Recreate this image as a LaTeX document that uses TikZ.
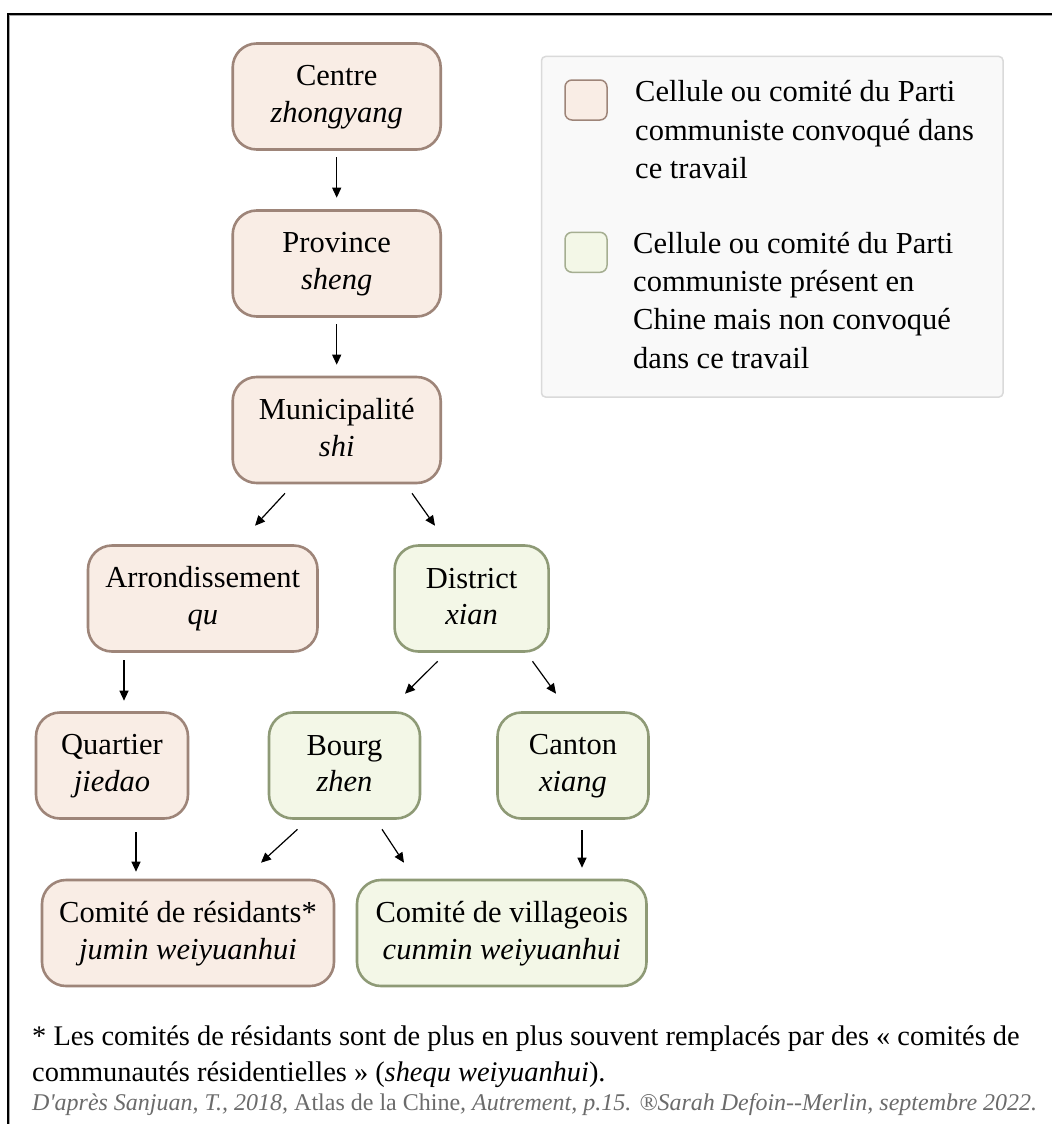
\documentclass[tikz,border=0pt]{standalone}
\usepackage{fontspec}
\setmainfont{Liberation Serif}
\usetikzlibrary{arrows.meta}
\definecolor{pinkfill}{HTML}{F9EDE5}
\definecolor{pinkdraw}{HTML}{9E8579}
\definecolor{greenfill}{HTML}{F3F7E7}
\definecolor{greendraw}{HTML}{8E9A76}
\definecolor{legfill}{HTML}{F9F9F9}
\definecolor{legdraw}{HTML}{DADADA}
\definecolor{srcgrey}{HTML}{6B6B6B}
\newcommand{\mytop}{\rule{0pt}{22pt}}
\newcommand{\mybot}{\rule[-6pt]{0pt}{6pt}}
\begin{document}
\begin{tikzpicture}[x=1pt,y=-1pt,
  box/.style={rounded corners=24pt, line width=2.6pt, minimum height=106pt, inner sep=0pt, align=center, font=\fontsize{30.5pt}{36.7pt}\selectfont},
  pbox/.style={box, fill=pinkfill, draw=pinkdraw},
  gbox/.style={box, fill=greenfill, draw=greendraw},
  arr/.style={line width=1.2pt, -{Triangle[length=10pt,width=9pt]}},
  swatch/.style={line width=1.5pt, rounded corners=7pt, minimum width=42pt, minimum height=40pt, inner sep=0pt},
  legtext/.style={anchor=north west, inner sep=0pt, align=left, font=\fontsize{30.5pt}{38.3pt}\selectfont},
]
\useasboundingbox (0,0) rectangle (1052,1124);
\fill[white] (0,0) rectangle (1052,1124);
% frame
\draw[black, line width=2.7pt] (8,1124) -- (8,14) -- (1052,14);
\draw[gray!70, line width=1pt] (9.8,1124) -- (9.8,15.8) -- (1052,15.8);

% nodes
\node[pbox, minimum width=208pt] (cen) at (336.7,96.5) {\mytop Centre\\\textit{zhongyang}\mybot};
\node[pbox, minimum width=208pt] (pro) at (336.7,263.5) {\mytop Province\\\textit{sheng}\mybot};
\node[pbox, minimum width=208pt] (mun) at (336.7,430) {\mytop Municipalité\\\textit{shi}\mybot};
\node[pbox, minimum width=229.5pt] (arr) at (202.75,598.5) {\mytop Arrondissement\\\textit{qu}\mybot};
\node[gbox, minimum width=154pt] (dis) at (471.6,598.5) {\mytop District\\\textit{xian}\mybot};
\node[pbox, minimum width=152pt] (qua) at (112,765.5) {\mytop Quartier\\\textit{jiedao}\mybot};
\node[gbox, minimum width=151pt] (bou) at (344.5,765.5) {\mytop Bourg\\\textit{zhen}\mybot};
\node[gbox, minimum width=151pt] (can) at (573,765.5) {\mytop Canton\\\textit{xiang}\mybot};
\node[pbox, minimum width=292pt] (res) at (188,933) {\mytop Comité de résidants*\\\textit{jumin weiyuanhui}\mybot};
\node[gbox, minimum width=289.5pt] (vil) at (501.75,933) {\mytop Comité de villageois\\\textit{cunmin weiyuanhui}\mybot};

% arrows
\draw[arr] ([shift={(0,6.5)}]cen.south) -- ([shift={(0,-11.5)}]pro.north);
\draw[arr] ([shift={(0,6.5)}]pro.south) -- ([shift={(0,-11)}]mun.north);
\draw[arr] ([shift={(-51.7,9)}]mun.south) -- ([shift={(52.25,-18.5)}]arr.north);
\draw[arr] ([shift={(75.3,9)}]mun.south) -- ([shift={(-36.6,-18.5)}]dis.north);
\draw[arr] ([shift={(-78.75,7.5)}]arr.south) -- ([shift={(12,-10.5)}]qua.north);
\draw[arr] ([shift={(-34,8.5)}]dis.south) -- ([shift={(60.5,-17.5)}]bou.north);
\draw[arr] ([shift={(60.9,8.5)}]dis.south) -- ([shift={(-17,-17.5)}]can.north);
\draw[arr] ([shift={(24,12.5)}]qua.south) -- ([shift={(-52,-7)}]res.north);
\draw[arr] ([shift={(-47,9.5)}]bou.south) -- ([shift={(73,-16)}]res.north);
\draw[arr] ([shift={(37.5,9.5)}]bou.south) -- ([shift={(-97.75,-16)}]vil.north);
\draw[arr] ([shift={(9,10.5)}]can.south) -- ([shift={(80.25,-11)}]vil.north);

% legend
\node[draw=legdraw, fill=legfill, line width=1.5pt, rounded corners=4pt, minimum width=461.5pt, minimum height=340.5pt, inner sep=0pt] (leg) at (772.25,226.75) {};
\node[swatch, fill=pinkfill, draw=pinkdraw] (sw1) at (586,100) {};
\node[swatch, fill=greenfill, draw=greendraw!80] (sw2) at (586,252.3) {};
\node[legtext] (lt1) at (635,79.7) {\mytop Cellule ou comité du Parti\\communiste convoqué dans\\ce travail};
\node[legtext] (lt2) at (633,231) {\mytop Cellule ou comité du Parti\\communiste présent en\\Chine mais non convoqué\\dans ce travail};

% footnote
\node[anchor=north west, inner sep=0pt, align=left, font=\fontsize{28.4pt}{36pt}\selectfont] (fn) at (32,1024) {\rule{0pt}{21pt}* Les comités de résidants sont de plus en plus souvent remplacés par des «~comités de\\communautés résidentielles~» (\textit{shequ weiyuanhui}).};
\node[anchor=base west, inner sep=0pt, text=srcgrey, font=\fontsize{24pt}{28pt}\selectfont\itshape] (src) at (32,1110) {D\textquotesingle après Sanjuan, T., 2018, {\upshape Atlas de la Chine}, Autrement, p.15. ®Sarah Defoin-{}-Merlin, septembre 2022.};
\end{tikzpicture}
\end{document}
